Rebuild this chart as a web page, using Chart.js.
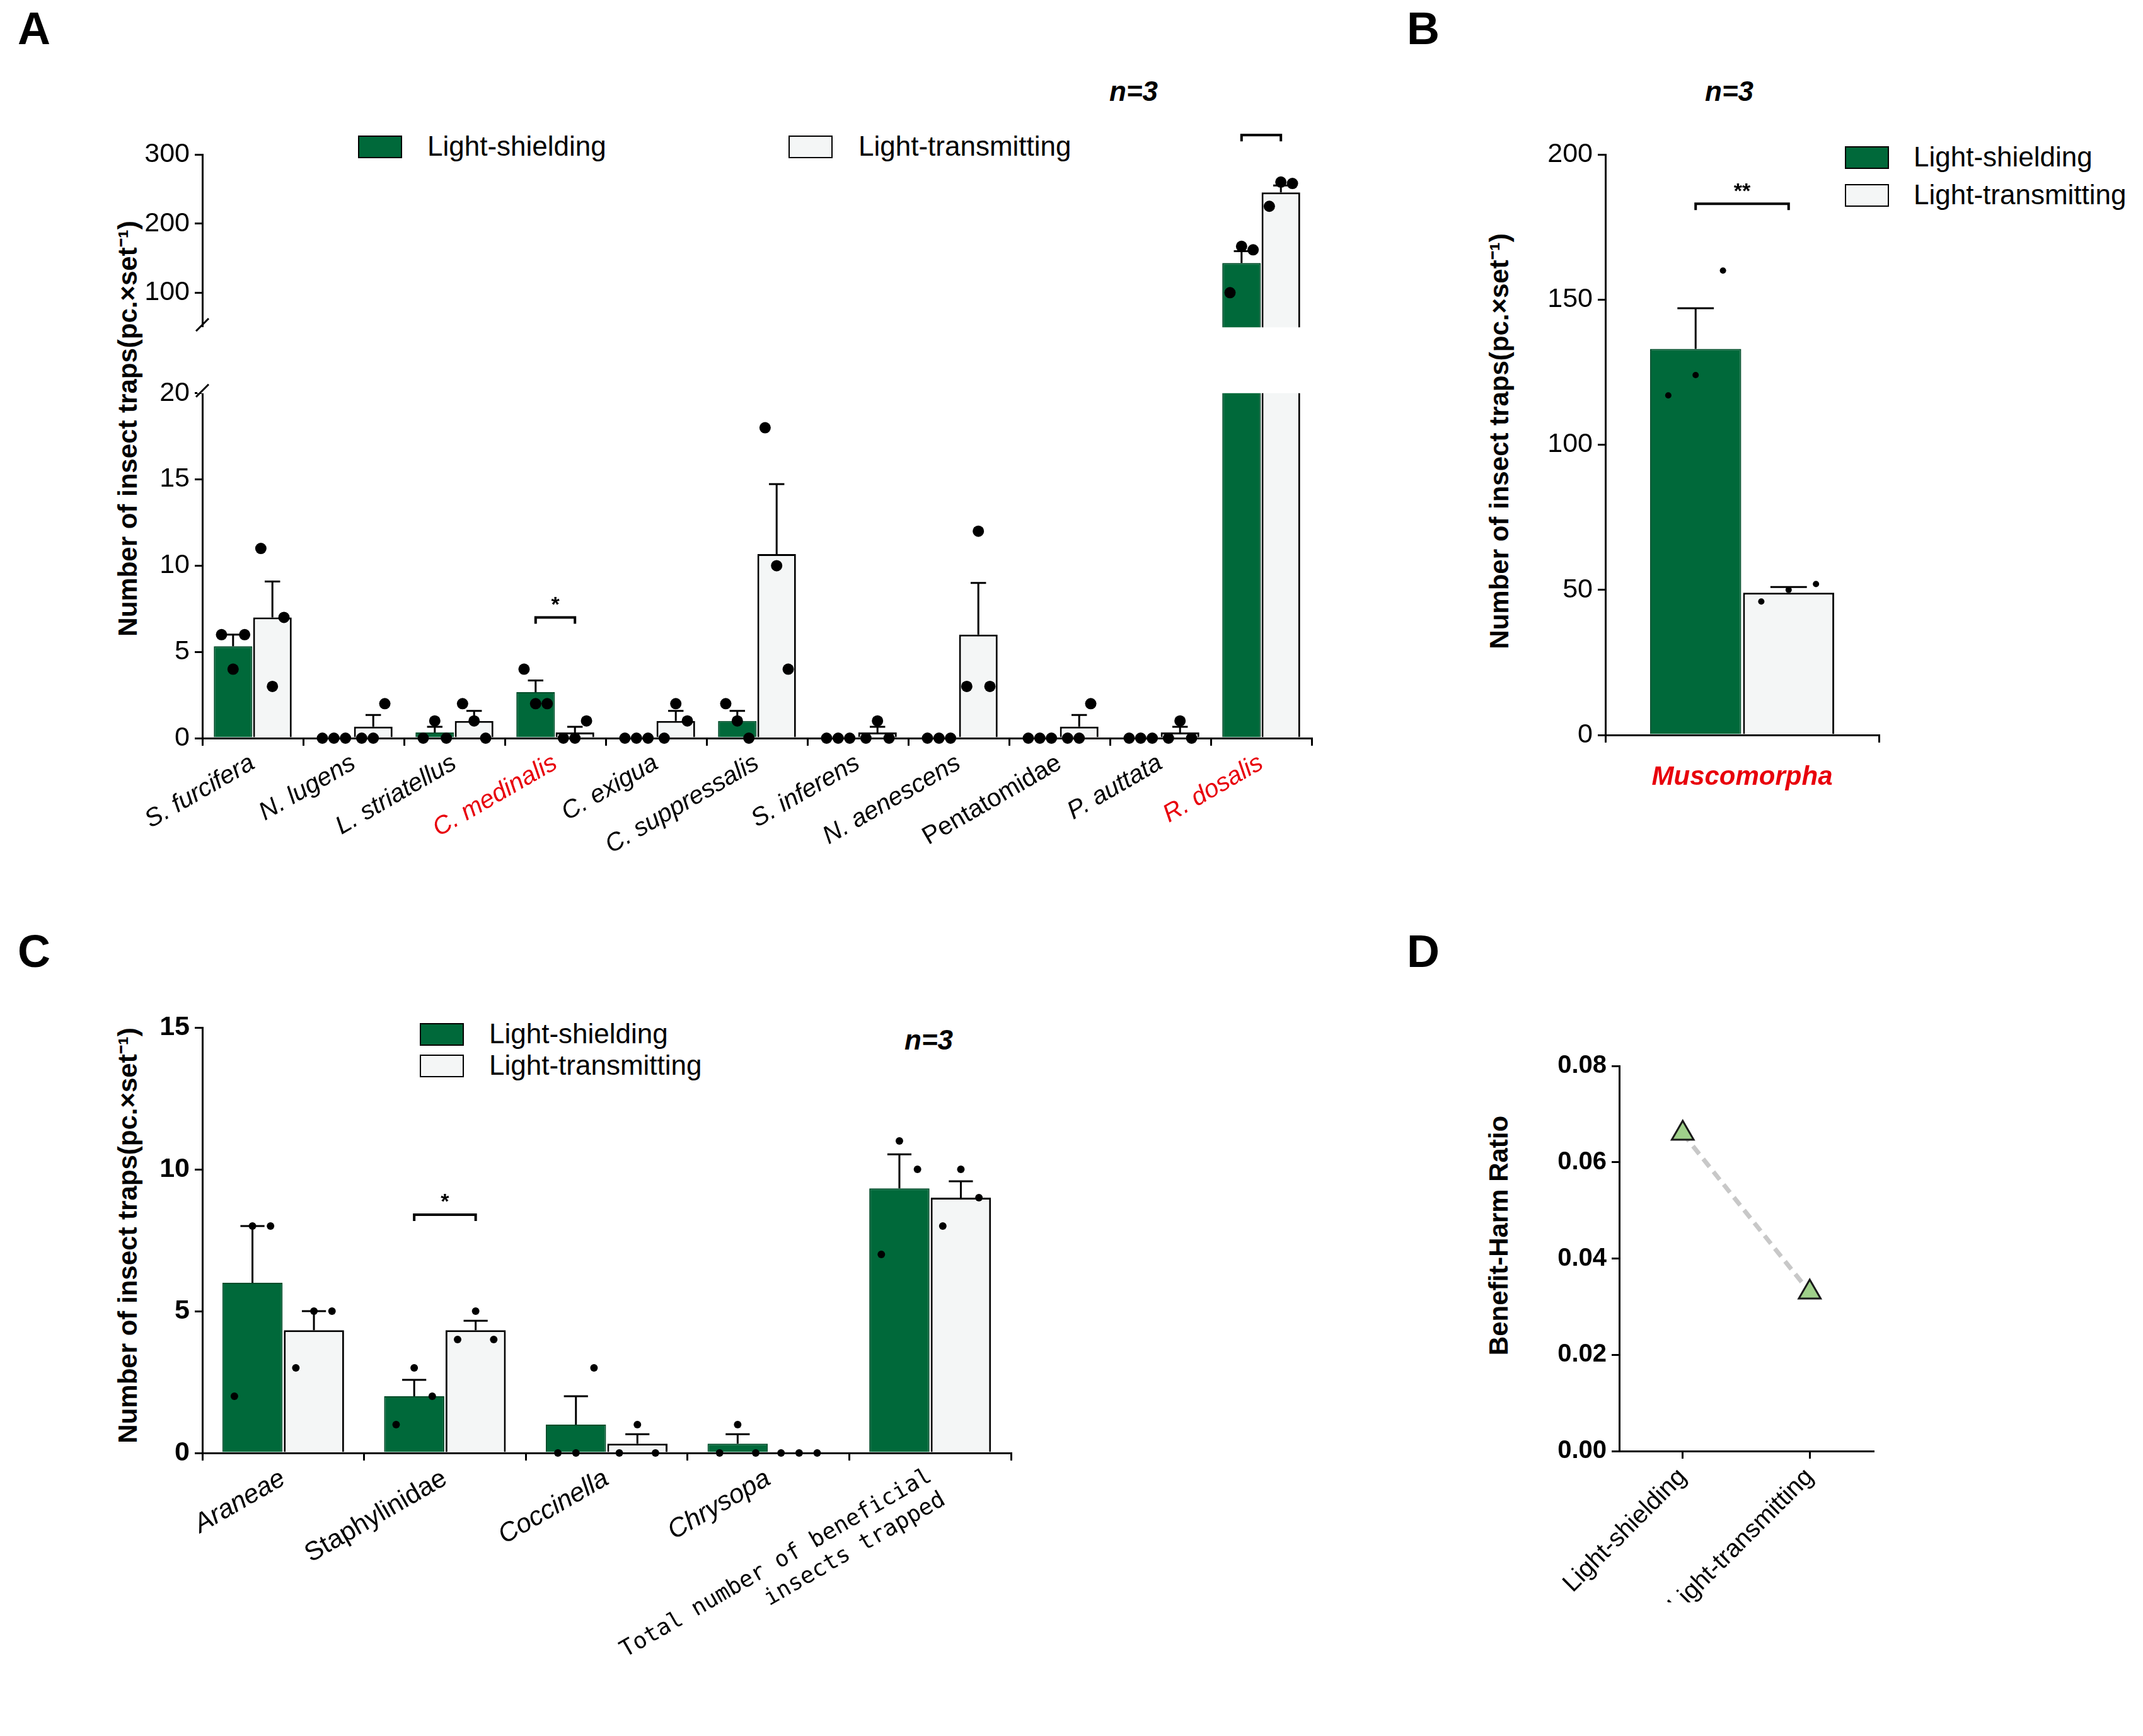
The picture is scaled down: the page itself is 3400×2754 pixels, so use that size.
<!DOCTYPE html>
<html><head><meta charset="utf-8">
<script src="https://cdn.jsdelivr.net/npm/chart.js@4.4.1/dist/chart.umd.min.js"></script>
<style>
body{margin:0;width:3400px;height:2754px;background:#fff;position:relative;font-family:"Liberation Sans",Arial,sans-serif;overflow:hidden}
canvas{position:absolute}
.t{position:absolute;white-space:nowrap;color:#000}
.let{font-size:72px;font-weight:bold}
.n{font-size:44px;font-weight:bold;font-style:italic}
.yt{font-size:42px;font-weight:bold;transform:translate(-50%,-50%) rotate(-90deg)}
.lg{font-size:44px}
.box{position:absolute;width:70px;height:36px;border:2px solid #000;box-sizing:border-box}
</style></head><body>
<div class="t let" style="left:28px;top:4px">A</div>
<div class="t let" style="left:2232px;top:4px">B</div>
<div class="t let" style="left:28px;top:1468px">C</div>
<div class="t let" style="left:2232px;top:1468px">D</div>
<div class="t n" style="left:1760px;top:120px">n=3</div>
<div class="t n" style="left:2705px;top:120px">n=3</div>
<div class="t n" style="left:1435px;top:1625px">n=3</div>
<div class="t yt" style="left:200px;top:680px">Number of insect traps(pc.×set⁻¹)</div>
<div class="t yt" style="left:2376px;top:700px">Number of insect traps(pc.×set⁻¹)</div>
<div class="t yt" style="left:200px;top:1960px">Number of insect traps(pc.×set⁻¹)</div>
<div class="t yt" style="left:2378px;top:1960px">Benefit-Harm Ratio</div>

<div class="box" style="left:568px;top:215px;background:#00693a"></div>
<div class="t lg" style="left:678px;top:207px">Light-shielding</div>
<div class="box" style="left:1251px;top:215px;background:#f4f6f6"></div>
<div class="t lg" style="left:1362px;top:207px">Light-transmitting</div>

<div class="box" style="left:2927px;top:232px;background:#00693a"></div>
<div class="t lg" style="left:3036px;top:224px">Light-shielding</div>
<div class="box" style="left:2927px;top:292px;background:#f4f6f6"></div>
<div class="t lg" style="left:3036px;top:284px">Light-transmitting</div>

<div class="box" style="left:666px;top:1623px;background:#00693a"></div>
<div class="t lg" style="left:776px;top:1615px">Light-shielding</div>
<div class="box" style="left:666px;top:1673px;background:#f4f6f6"></div>
<div class="t lg" style="left:776px;top:1665px">Light-transmitting</div>

<canvas id="aTop" style="left:200px;top:200px" width="1901" height="353"></canvas>
<canvas id="aBot" style="left:200px;top:590px" width="1901" height="841"></canvas>
<canvas id="b" style="left:2430px;top:200px" width="561" height="1086"></canvas>
<canvas id="c" style="left:200px;top:1590px" width="1424" height="1165"></canvas>
<canvas id="d" style="left:2430px;top:1650px" width="565" height="892"></canvas>
<script>
const GREEN = '#00693a', LIGHT = '#f4f6f6';
const FONT = '"Liberation Sans", Arial, sans-serif';

// panel A
const pestLabels = ['S. furcifera','N. lugens','L. striatellus','C. medinalis','C. exigua','C. suppressalis','S. inferens','N. aenescens','Pentatomidae','P. auttata','R. dosalis'];
const pestRed = [3, 10];
const pestShield = [5.33,0,0.33,2.67,0,1,0,0,0,0,143];
const pestShieldErr = [0.67,0,0.33,0.67,0,0.58,0,0,0,0,17];
const pestShieldDots = [[6,4,6],[0,0,0],[0,1,0],[4,2,2],[0,0,0],[2,1,0],[0,0,0],[0,0,0],[0,0,0],[0,0,0],[100,167,162]];
const pestTrans = [7,0.67,1,0.33,1,10.67,0.33,6,0.67,0.33,245];
const pestTransErr = [2.08,0.67,0.58,0.33,0.58,4.06,0.33,3,0.67,0.33,10];
const pestTransDots = [[11,3,7],[0,0,2],[2,1,0],[0,0,1],[0,2,1],[18,10,4],[0,1,0],[3,12,3],[0,0,2],[0,1,0],[225,260,258]];
const pestSig = [{i:3, v:7.0, t:'*'}, {i:10, v:328, t:'*'}];

// panel B
const muscoLabels = ['Muscomorpha'];
const muscoShield = [133], muscoShieldErr = [14], muscoShieldDots = [[117,124,160]];
const muscoTrans = [49], muscoTransErr = [2], muscoTransDots = [[46,50,52]];
const muscoSig = [{i:0, v:183, t:'**'}];

// panel C
const beneLabels = ['Araneae','Staphylinidae','Coccinella','Chrysopa',['Total number of beneficial','insects trapped']];
const beneShield = [6,2,1,0.33,9.33], beneShieldErr = [2,0.58,1,0.33,1.2];
const beneShieldDots = [[2,8,8],[1,3,2],[0,0,3],[0,1,0],[7,11,10]];
const beneTrans = [4.33,4.33,0.33,0,9], beneTransErr = [0.67,0.33,0.33,0,0.58];
const beneTransDots = [[3,5,5],[4,5,4],[0,1,0],[0,0,0],[8,10,9]];
const beneSig = [{i:1, v:8.4, t:'*'}];

// panel D
const ratioLabels = ['Light-shielding','Light-transmitting'];
const ratioValues = [0.066, 0.033];

const barsPlugin = {
  id:'bars',
  afterDatasetsDraw(chart, args, opts){
    const c = chart.ctx, y = chart.scales.y;
    c.save();
    chart.data.datasets.forEach((ds, di) => {
      const meta = chart.getDatasetMeta(di);
      meta.data.forEach((el, i) => {
        const v = ds.data[i];
        if (v < y.min || v > y.max) return;
        const w = el.width, top = y.getPixelForValue(v);
        c.strokeStyle = '#000'; c.lineWidth = 3;
        if (ds.err[i] > 0) {
          const e = y.getPixelForValue(v + ds.err[i]);
          c.beginPath(); c.moveTo(el.x, top); c.lineTo(el.x, e);
          c.moveTo(el.x - w*0.2, e); c.lineTo(el.x + w*0.2, e); c.stroke();
        }
        c.fillStyle = '#000';
        ds.dots[i].forEach((d, k) => {
          c.beginPath();
          c.arc(el.x + (k-1)*w*0.3, y.getPixelForValue(d), opts.r, 0, Math.PI*2);
          c.fill();
        });
      });
    });
    (opts.sig || []).forEach(s => {
      const a = chart.getDatasetMeta(0).data[s.i], b = chart.getDatasetMeta(1).data[s.i];
      if (s.v < y.min && chart.canvas.id === 'aTop') return;
      if (chart.canvas.id === 'aBot' && s.v > y.max) return;
      const py = y.getPixelForValue(s.v);
      c.lineWidth = 4;
      c.beginPath(); c.moveTo(a.x, py + 10); c.lineTo(a.x, py); c.lineTo(b.x, py); c.lineTo(b.x, py + 10); c.stroke();
      c.font = 'bold 34px ' + FONT; c.textAlign = 'center'; c.textBaseline = 'bottom';
      c.fillText(s.t, (a.x + b.x)/2, py - 2);
    });
    if (opts.brk) {
      const ca = chart.chartArea, yy = opts.brk === 'top' ? ca.top : ca.bottom;
      c.lineWidth = 3;
      c.clearRect(ca.left - 8, yy - (opts.brk === 'top' ? 14 : 0), 16, 14);
      c.beginPath(); c.moveTo(ca.left - 10, yy + 6); c.lineTo(ca.left + 10, yy - 14); c.stroke();
    }
    c.restore();
  }
};

function axis(extra){
  return Object.assign({
    grid:{drawOnChartArea:false, drawTicks:true, tickLength:12, color:'#000', lineWidth:3},
    border:{color:'#000', width:3},
    ticks:{color:'#000', font:{family:FONT, size:43}, padding:8}
  }, extra);
}

function barDatasets(sh, shE, shD, tr, trE, trD, cp){
  return [
    {data:sh, err:shE, dots:shD, backgroundColor:GREEN, borderColor:'#004d2a', borderWidth:2, categoryPercentage:cp, barPercentage:0.98},
    {data:tr, err:trE, dots:trD, backgroundColor:LIGHT, borderColor:'#000', borderWidth:3, categoryPercentage:cp, barPercentage:0.98}
  ];
}

function barChart(id, labels, sets, yOpts, xOpts, pad, yw, xh, plug){
  return new Chart(document.getElementById(id), {
    type:'bar',
    data:{labels, datasets:sets},
    options:{
      responsive:false, animation:false, devicePixelRatio:1,
      layout:{padding:pad},
      plugins:{legend:{display:false}, tooltip:{enabled:false}, bars:plug},
      scales:{
        x: Object.assign(axis(xOpts), {afterFit(s){ if (xh) s.height = xh; }}),
        y: Object.assign(axis(yOpts), {afterFit(s){ s.width = yw; }})
      }
    },
    plugins:[barsPlugin]
  });
}

const aSets = () => barDatasets(pestShield, pestShieldErr, pestShieldDots, pestTrans, pestTransErr, pestTransDots, 0.78);

barChart('aTop', pestLabels, aSets(),
  {min:50, max:300, afterBuildTicks(s){ s.ticks = [{value:100},{value:200},{value:300}]; }},
  {display:false}, {top:45, right:20, bottom:0, left:0}, 121, 0,
  {r:9, sig:pestSig, brk:'bottom'});

barChart('aBot', pestLabels, aSets(),
  {min:0, max:20, ticks:{color:'#000', stepSize:5, font:{family:FONT, size:43}, padding:8}},
  {ticks:{minRotation:30, maxRotation:30, padding:4,
    color:ctx => pestRed.includes(ctx.index) ? '#e8000b' : '#000',
    font:ctx => ({family:FONT, size:40, style:(ctx.index === 8 ? 'normal' : 'italic')})}},
  {top:17, right:20, bottom:0, left:0}, 121, 260,
  {r:9, sig:pestSig, brk:'top'});

barChart('b', muscoLabels,
  barDatasets(muscoShield, muscoShieldErr, muscoShieldDots, muscoTrans, muscoTransErr, muscoTransDots, 0.68),
  {min:0, max:200, ticks:{color:'#000', stepSize:50, font:{family:FONT, size:43}, padding:8}},
  {grid:{drawOnChartArea:false, drawTicks:true, tickLength:12, color:'#000', lineWidth:3},
   ticks:{color:'#e8000b', padding:30, font:{family:FONT, size:42, weight:'bold', style:'italic'}}},
  {top:45, right:10, bottom:0, left:0}, 117, 120,
  {r:5, sig:muscoSig});

barChart('c', beneLabels,
  barDatasets(beneShield, beneShieldErr, beneShieldDots, beneTrans, beneTransErr, beneTransDots, 0.76),
  {min:0, max:15, ticks:{color:'#000', stepSize:5, font:{family:FONT, size:43, weight:'bold'}, padding:8}},
  {ticks:{minRotation:30, maxRotation:30, padding:4, color:'#000',
    font:ctx => ctx.index === 4 ? {family:'"DejaVu Sans Mono", monospace', size:36}
      : {family:FONT, size:42, style:(ctx.index === 1 ? 'normal' : 'italic')}}},
  {top:40, right:20, bottom:0, left:0}, 121, 450,
  {r:6, sig:beneSig});

new Chart(document.getElementById('d'), {
  type:'line',
  data:{labels:ratioLabels, datasets:[{
    data:ratioValues, borderColor:'#c8c8c8', borderWidth:7, borderDash:[16,10],
    pointStyle:'triangle', pointRadius:20, pointBackgroundColor:'#9fd08a', pointBorderColor:'#1a1a1a', pointBorderWidth:3
  }]},
  options:{
    responsive:false, animation:false, devicePixelRatio:1,
    layout:{padding:{top:41, right:20, bottom:0, left:0}},
    plugins:{legend:{display:false}, tooltip:{enabled:false}},
    scales:{
      x: Object.assign(axis({offset:true, ticks:{color:'#000', minRotation:45, maxRotation:45, padding:6, font:{family:FONT, size:40}}}),
        {afterFit(s){ s.height = 240; }}),
      y: Object.assign(axis({min:0, max:0.08, ticks:{color:'#000', stepSize:0.02, padding:8,
        font:{family:FONT, size:40, weight:'bold'}, callback:v => v.toFixed(2)}}),
        {afterFit(s){ s.width = 139; }})
    }
  }
});
</script>
</body></html>
